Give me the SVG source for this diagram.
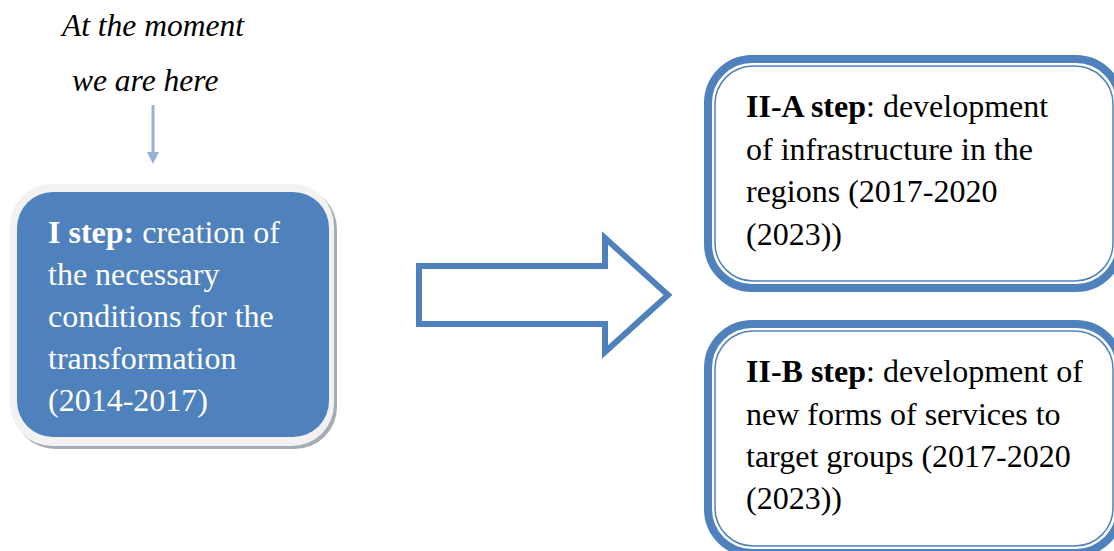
<svg xmlns="http://www.w3.org/2000/svg" width="1114" height="551" viewBox="0 0 1114 551">
<style>
.t{font-family:"Liberation Serif","Times New Roman",serif;font-size:32px}
.b{font-weight:bold}
.w{fill:#ffffff}
.k{fill:#000000}
.it{font-family:"Liberation Serif","Times New Roman",serif;font-style:italic;font-size:31.5px;fill:#000}
.outer{fill:#ffffff;stroke:#4f81bd;stroke-width:8}
.inner{fill:none;stroke:#4f81bd;stroke-width:1.5}
</style>
<defs>
<marker id="ah" markerWidth="4" markerHeight="4" refX="2" refY="2" orient="auto" markerUnits="strokeWidth">
<path d="M0,0 L4,2 L0,4 Z" fill="#95b3d7"/>
</marker>
</defs>
<g id="note">
<text class="it" x="62" y="36">At the moment</text>
<text class="it" x="72" y="91">we are here</text>
</g>
<g id="connectors">
<line x1="153" y1="105" x2="153" y2="158" stroke="#95b3d7" stroke-width="3" marker-end="url(#ah)"/>
<path d="M419,266 H605 V238 L668,295 L605,352 V324 H419 Z" fill="#ffffff" stroke="#4f81bd" stroke-width="6"/>
</g>
<g id="step1">
<rect x="13" y="187" width="324" height="262" rx="42" fill="#a6acb4"/>
<rect x="10" y="184" width="324" height="262" rx="42" fill="#f2f2f2"/>
<rect x="17" y="192" width="312" height="245" rx="36" fill="#4f81bd"/>
<text class="t w" x="48" y="243"><tspan class="b">I step:</tspan> creation of</text>
<text class="t w" x="48" y="285">the necessary</text>
<text class="t w" x="48" y="327">conditions for the</text>
<text class="t w" x="48" y="369">transformation</text>
<text class="t w" x="48" y="411">(2014-2017)</text>
</g>
<g id="step2a">
<rect class="outer" x="708" y="59" width="412" height="229" rx="44"/>
<rect class="inner" x="715" y="66" width="398" height="215" rx="38"/>
<text class="t k" x="746" y="117"><tspan class="b">II-A step</tspan>: development</text>
<text class="t k" x="746" y="160">of infrastructure in the</text>
<text class="t k" x="746" y="202">regions (2017-2020</text>
<text class="t k" x="746" y="245">(2023))</text>
</g>
<g id="step2b">
<rect class="outer" x="708" y="324" width="412" height="229" rx="44"/>
<rect class="inner" x="715" y="331" width="398" height="215" rx="38"/>
<text class="t k" x="746" y="382"><tspan class="b">II-B step</tspan>: development of</text>
<text class="t k" x="746" y="425">new forms of services to</text>
<text class="t k" x="746" y="467">target groups (2017-2020</text>
<text class="t k" x="746" y="509">(2023))</text>
</g>
</svg>
